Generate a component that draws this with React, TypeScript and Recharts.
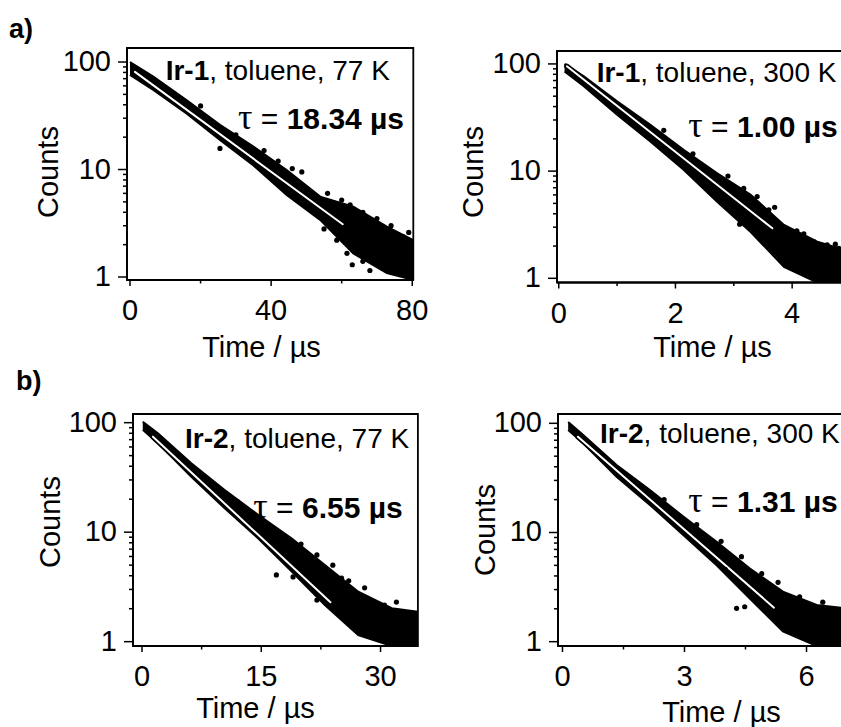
import React from "react";
import {
  ComposedChart,
  Area,
  Line,
  Scatter,
  XAxis,
  YAxis,
  ReferenceArea,
} from "recharts";

// ---- data (time in µs, counts) ----

const yTicks = [1, 2, 3, 4, 5, 6, 7, 8, 9, 10, 20, 30, 40, 50, 60, 70, 80, 90, 100];
const yMajor = [1, 10, 100];

// a) Ir-1, 77 K
const a1BandT = [0, 6.6, 16.1, 25.5, 35, 44.4, 53.9, 63.3, 72.8, 80.3];
const a1BandLo = [76, 55, 33, 18.8, 10.9, 5.8, 3.4, 1.66, 1.09, 0.94];
const a1BandHi = [100, 73, 44, 26, 16.3, 9.9, 5.6, 4.5, 2.94, 2.2];
const a1DotT = [25.5, 48.7, 62.4, 61.5, 58.6, 77.5, 66, 56, 60, 66, 70, 74, 79, 55, 63, 68, 30, 38, 42, 46, 20];
const a1DotC = [15.7, 9.5, 4.7, 1.66, 2.2, 2.37, 1.4, 6.0, 5.2, 4.0, 3.5, 3.0, 2.6, 2.8, 1.3, 1.15, 21, 15, 12, 10.2, 39];
const a1FitT = [1.4, 60.3];
const a1FitC = [81, 3.1];
const a1XTicks = [0, 20, 40, 60, 80];
const a1XMajor = [0, 40, 80];

// a) Ir-1, 300 K
const a2BandT = [0.1, 0.43, 1.0, 1.57, 2.14, 2.71, 3.29, 3.86, 4.43, 5.0];
const a2BandLo = [85, 62, 33.6, 18.9, 10.3, 5.2, 2.7, 1.28, 0.914, 0.914];
const a2BandHi = [100, 76.6, 44.7, 27.1, 15.8, 9.6, 6.0, 3.15, 2.2, 1.77];
const a2DotT = [3.17, 3.6, 4.37, 4.6, 4.74, 4.08, 3.96, 4.09, 1.8, 2.3, 2.9, 3.1, 3.4, 3.7, 4.2, 4.8];
const a2DotC = [6.9, 4.35, 2.2, 2.05, 2.08, 2.77, 1.5, 1.65, 24, 14.5, 9.0, 3.2, 5.8, 4.6, 2.6, 1.9];
const a2FitT = [0.14, 3.66];
const a2FitC = [95, 2.93];
const a2XTicks = [0, 1, 2, 3, 4, 5];
const a2XMajor = [0, 2, 4];

// b) Ir-2, 77 K
const b1BandT = [0.1, 2.0, 6.2, 10.4, 14.6, 18.8, 23.0, 27.2, 31.4, 34.7];
const b1BandLo = [86, 65, 32, 16.5, 8.8, 4.4, 2.16, 1.15, 0.913, 0.913];
const b1BandHi = [102, 80, 42.6, 24.3, 14.4, 8.8, 5.0, 2.86, 2.02, 1.88];
const b1DotT = [10, 16.9, 25.1, 33.9, 30.5, 12, 17, 20, 22, 24, 26, 28, 32, 19, 22];
const b1DotC = [23.1, 4.07, 3.8, 1.82, 2.16, 19, 10, 7.8, 6.2, 5.0, 3.6, 3.1, 2.3, 3.9, 2.4];
const b1FitT = [1.38, 23.7];
const b1FitC = [74.5, 2.29];
const b1XTicks = [0, 7.5, 15, 22.5, 30];
const b1XMajor = [0, 15, 30];

// b) Ir-2, 300 K
const b2BandT = [0.14, 0.51, 1.33, 2.15, 2.97, 3.79, 4.6, 5.42, 6.25, 7.0];
const b2BandLo = [87, 65.6, 32.4, 17.9, 9.5, 5.0, 2.5, 1.24, 0.913, 0.913];
const b2BandHi = [103, 78, 41.5, 24.5, 14, 8.2, 4.7, 2.87, 2.17, 2.02];
const b2DotT = [4.28, 4.48, 5.83, 5.0, 4.6, 6.08, 2.5, 3.3, 3.9, 4.4, 4.9, 5.3, 5.6, 6.4, 6.7, 4.0];
const b2DotC = [2.02, 2.09, 2.58, 2.77, 4.08, 1.64, 20, 11.8, 8.3, 6.0, 4.2, 3.5, 1.3, 2.3, 1.9, 4.6];
const b2FitT = [0.38, 5.2];
const b2FitC = [75.4, 2.05];
const b2XTicks = [0, 1.5, 3, 4.5, 6];
const b2XMajor = [0, 3, 6];

const FONT = "'Liberation Sans', Arial, Helvetica, sans-serif";
const SERIF = "'Liberation Serif', 'Times New Roman', serif";
const YW = 110; // y-axis gutter
const MT = 10;
const MR = 25;
const XH = 50;

function zip(ts: number[], cs: number[]) {
  return ts.map((t, i) => ({ t, c: cs[i] }));
}

function makeYTick(props: any) {
  const { x, y, payload } = props;
  const major = yMajor.includes(payload.value);
  return (
    <g>
      <line x1={x - (major ? 9 : 4)} x2={x} y1={y} y2={y} stroke="#000" strokeWidth={1.5} />
      {major && (
        <text x={x - 16} y={y + 9} textAnchor="end" fontSize={29} fontFamily={FONT} fill="#000">
          {payload.value}
        </text>
      )}
    </g>
  );
}

function makeXTick(majors: number[]) {
  return (props: any) => {
    const { x, y, payload } = props;
    const major = majors.includes(payload.value);
    return (
      <g>
        <line x1={x} x2={x} y1={y} y2={y + (major ? 6 : 3.5)} stroke="#000" strokeWidth={1.5} />
        {major && (
          <text x={x} y={y + 40} textAnchor="middle" fontSize={29} fontFamily={FONT} fill="#000">
            {payload.value}
          </text>
        )}
      </g>
    );
  };
}

interface PanelProps {
  box: { x: number; y: number; w: number; h: number };
  xDomain: [number, number];
  yDomain: [number, number];
  bandT: number[];
  bandLo: number[];
  bandHi: number[];
  dotT: number[];
  dotC: number[];
  fitT: number[];
  fitC: number[];
  xTicks: number[];
  xMajor: number[];
}

function DecayPanel(p: PanelProps) {
  const band = p.bandT.map((t, i) => ({ t, band: [p.bandLo[i], p.bandHi[i]] }));
  const dots = zip(p.dotT, p.dotC);
  const fit = zip(p.fitT, p.fitC);
  const width = p.box.w + YW + MR;
  const height = p.box.h + MT + XH;

  return (
    <div style={{ position: "absolute", left: p.box.x - YW, top: p.box.y - MT, width, height }}>
      <ComposedChart width={width} height={height} margin={{ top: MT, right: MR, left: 0, bottom: 0 }}>
        <XAxis
          dataKey="t"
          type="number"
          domain={p.xDomain}
          allowDataOverflow
          ticks={p.xTicks}
          interval={0}
          height={XH}
          tickLine={false}
          tickSize={0}
          tickMargin={0}
          axisLine={{ stroke: "#000", strokeWidth: 1.8 }}
          tick={makeXTick(p.xMajor)}
        />
        <YAxis
          dataKey="c"
          type="number"
          scale="log"
          domain={p.yDomain}
          allowDataOverflow
          ticks={yTicks}
          interval={0}
          width={YW}
          tickLine={false}
          tickSize={0}
          tickMargin={0}
          axisLine={{ stroke: "#000", strokeWidth: 1.8 }}
          tick={makeYTick}
        />
        <Area
          data={band}
          dataKey="band"
          type="linear"
          stroke="#000"
          strokeWidth={2}
          fill="#000"
          fillOpacity={1}
          isAnimationActive={false}
        />
        <Scatter
          data={dots}
          fill="#000"
          isAnimationActive={false}
          shape={(s: any) => <circle cx={s.cx} cy={s.cy} r={2.6} fill="#000" />}
        />
        <Line
          data={fit}
          dataKey="c"
          stroke="#000"
          strokeWidth={5.5}
          strokeLinecap="round"
          dot={false}
          isAnimationActive={false}
        />
        <Line
          data={fit}
          dataKey="c"
          stroke="#fff"
          strokeWidth={2}
          strokeLinecap="round"
          dot={false}
          isAnimationActive={false}
        />
        <ReferenceArea
          x1={p.xDomain[0]}
          x2={p.xDomain[1]}
          y1={p.yDomain[0]}
          y2={p.yDomain[1]}
          fill="none"
          stroke="#000"
          strokeWidth={1.8}
          ifOverflow="visible"
        />
      </ComposedChart>
    </div>
  );
}

function Caption({ x, y, name, temp }: { x: number; y: number; name: string; temp: string }) {
  return (
    <text x={x} y={y} fontSize={28} fontFamily={FONT} fill="#000">
      <tspan fontWeight="bold">{name}</tspan>
      <tspan>{", toluene, " + temp}</tspan>
    </text>
  );
}

function Tau({ x, y, value }: { x: number; y: number; value: string }) {
  return (
    <text x={x} y={y} fontSize={30} fontFamily={FONT} fill="#000">
      <tspan fontFamily={SERIF} fontSize={36}>τ</tspan>
      <tspan>{" = "}</tspan>
      <tspan fontWeight="bold">{value + " µs"}</tspan>
    </text>
  );
}

export default function App() {
  return (
    <div
      style={{
        position: "absolute",
        left: 0,
        top: 0,
        width: 841,
        height: 727,
        overflow: "hidden",
        background: "#fff",
      }}
    >
      <DecayPanel
        box={{ x: 127, y: 48, w: 286.3, h: 232 }}
        xDomain={[-0.85, 80.3]}
        yDomain={[0.938, 135]}
        bandT={a1BandT}
        bandLo={a1BandLo}
        bandHi={a1BandHi}
        dotT={a1DotT}
        dotC={a1DotC}
        fitT={a1FitT}
        fitC={a1FitC}
        xTicks={a1XTicks}
        xMajor={a1XMajor}
      />
      <DecayPanel
        box={{ x: 556.7, y: 51, w: 293.5, h: 231.5 }}
        xDomain={[-0.03, 5.0]}
        yDomain={[0.914, 132]}
        bandT={a2BandT}
        bandLo={a2BandLo}
        bandHi={a2BandHi}
        dotT={a2DotT}
        dotC={a2DotC}
        fitT={a2FitT}
        fitC={a2FitC}
        xTicks={a2XTicks}
        xMajor={a2XMajor}
      />
      <DecayPanel
        box={{ x: 133.3, y: 414, w: 284.9, h: 232 }}
        xDomain={[-1.13, 34.7]}
        yDomain={[0.913, 120]}
        bandT={b1BandT}
        bandLo={b1BandLo}
        bandHi={b1BandHi}
        dotT={b1DotT}
        dotC={b1DotC}
        fitT={b1FitT}
        fitC={b1FitC}
        xTicks={b1XTicks}
        xMajor={b1XMajor}
      />
      <DecayPanel
        box={{ x: 558.3, y: 414, w: 289.2, h: 232 }}
        xDomain={[-0.11, 7.0]}
        yDomain={[0.913, 121.7]}
        bandT={b2BandT}
        bandLo={b2BandLo}
        bandHi={b2BandHi}
        dotT={b2DotT}
        dotC={b2DotC}
        fitT={b2FitT}
        fitC={b2FitC}
        xTicks={b2XTicks}
        xMajor={b2XMajor}
      />

      {/* panel letters, axis titles and annotations */}
      <svg
        width={841}
        height={727}
        style={{ position: "absolute", left: 0, top: 0, pointerEvents: "none" }}
      >
        <text x={9} y={38} fontSize={27} fontWeight="bold" fontFamily={FONT}>a)</text>
        <text x={16} y={390} fontSize={27} fontWeight="bold" fontFamily={FONT}>b)</text>

        {[
          [58, 172],
          [483, 172],
          [59.5, 522],
          [495, 530],
        ].map(([x, y], i) => (
          <text
            key={"c" + i}
            x={x}
            y={y}
            transform={`rotate(-90 ${x} ${y})`}
            textAnchor="middle"
            fontSize={29}
            fontFamily={FONT}
          >
            Counts
          </text>
        ))}

        {[
          [261.5, 357],
          [712.5, 356.7],
          [255.5, 718],
          [721.5, 721.7],
        ].map(([x, y], i) => (
          <text key={"t" + i} x={x} y={y} textAnchor="middle" fontSize={29} fontFamily={FONT}>
            Time / µs
          </text>
        ))}

        <Caption x={165.7} y={80} name="Ir-1" temp="77 K" />
        <Caption x={596.7} y={81.7} name="Ir-1" temp="300 K" />
        <Caption x={185} y={448.3} name="Ir-2" temp="77 K" />
        <Caption x={600} y={443.3} name="Ir-2" temp="300 K" />

        <Tau x={238} y={128.5} value="18.34" />
        <Tau x={688.3} y={136.5} value="1.00" />
        <Tau x={253.3} y={518} value="6.55" />
        <Tau x={688.3} y={511.7} value="1.31" />
      </svg>
    </div>
  );
}
